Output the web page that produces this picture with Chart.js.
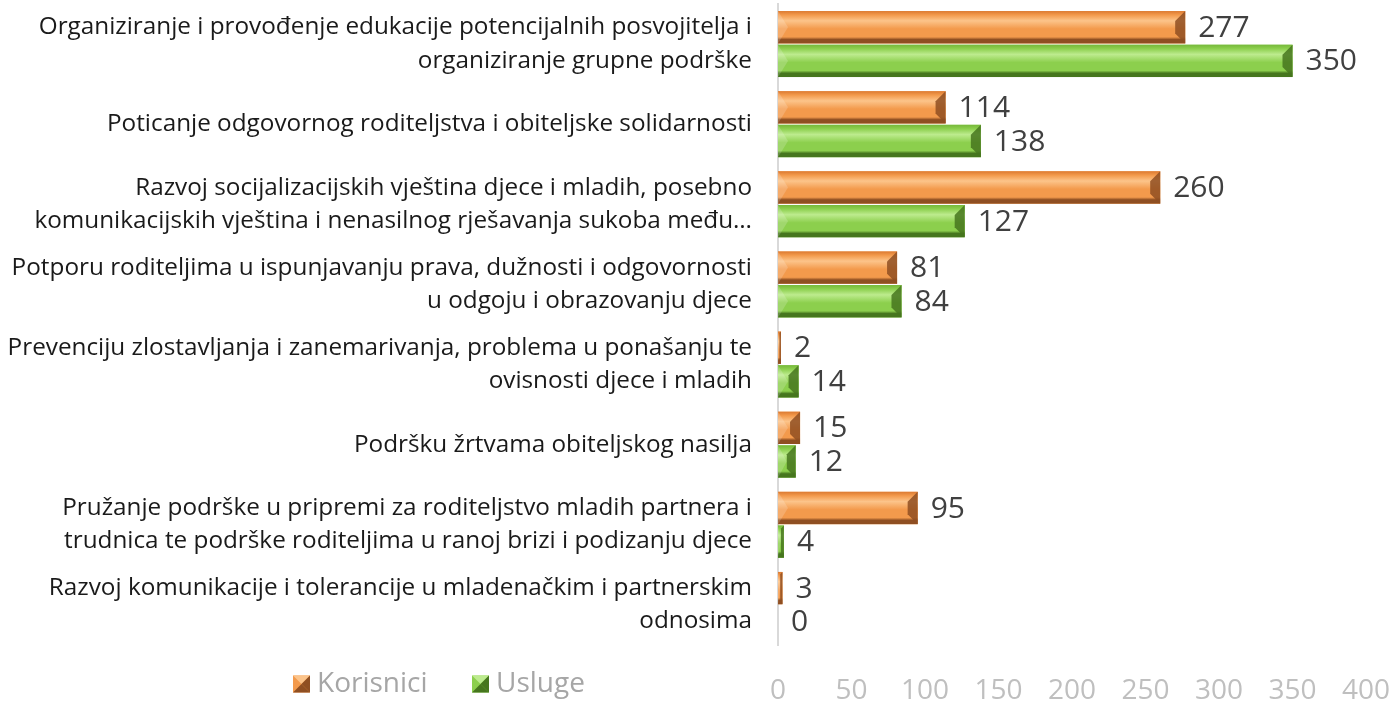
<!DOCTYPE html>
<html lang="hr">
<head>
<meta charset="UTF-8" />
<title>Korisnici i usluge</title>
<style>
  body { margin: 0; background: #fff; }
  .wrap { width: 1393px; height: 702px; position: relative; }
</style>
<script src="https://cdn.jsdelivr.net/npm/chart.js"></script>
</head>
<body>
<div class="wrap"><canvas id="chart"></canvas></div>
<script>
const categories = [
  ['Organiziranje i provođenje edukacije potencijalnih posvojitelja i', 'organiziranje grupne podrške'],
  ['Poticanje odgovornog roditeljstva i obiteljske solidarnosti'],
  ['Razvoj socijalizacijskih vještina djece i mladih, posebno', 'komunikacijskih vještina i nenasilnog rješavanja sukoba među…'],
  ['Potporu roditeljima u ispunjavanju prava, dužnosti i odgovornosti', 'u odgoju i obrazovanju djece'],
  ['Prevenciju zlostavljanja i zanemarivanja, problema u ponašanju te', 'ovisnosti djece i mladih'],
  ['Podršku žrtvama obiteljskog nasilja'],
  ['Pružanje podrške u pripremi za roditeljstvo mladih partnera i', 'trudnica te podrške roditeljima u ranoj brizi i podizanju djece'],
  ['Razvoj komunikacije i tolerancije u mladenačkim i partnerskim', 'odnosima']
];
const korisnici = [277, 114, 260, 81, 2, 15, 95, 3];
const usluge = [350, 138, 127, 84, 14, 12, 4, 0];
const seriesNames = ['Korisnici', 'Usluge'];
const xMax = 400;
const xStep = 50;

const FONT = '"Open Sans", Lato, sans-serif';

const shades = [
  { base: '#F39A4C', light: '#FCC48A', dark: '#8F4F22', edge: '#DB7A32' },
  { base: '#8CCF4D', light: '#BDEB8E', dark: '#46761E', edge: '#76B83A' }
];

function drawBevelBar(ctx, x0, x1, y0, y1, s) {
  const w = x1 - x0, h = y1 - y0;
  if (w <= 0) return;
  const g = ctx.createLinearGradient(0, y0, 0, y1);
  g.addColorStop(0, s.edge);
  g.addColorStop(0.12, s.base);
  g.addColorStop(0.3, s.light);
  g.addColorStop(0.55, s.base);
  g.addColorStop(0.8, s.base);
  g.addColorStop(0.88, s.dark);
  g.addColorStop(1, s.dark);
  ctx.fillStyle = g;
  ctx.fillRect(x0, y0, w, h);
  const b = Math.min(h / 2, w / 2, 10);
  // left bevel (chevron)
  ctx.fillStyle = 'rgba(255,255,255,0.18)';
  ctx.beginPath();
  ctx.moveTo(x0, y0); ctx.lineTo(x0 + b, y0 + h / 2); ctx.lineTo(x0, y1);
  ctx.closePath(); ctx.fill();
  // right bevel (dark end)
  ctx.fillStyle = s.dark;
  ctx.globalAlpha = 0.85;
  ctx.beginPath();
  ctx.moveTo(x1, y0); ctx.lineTo(x1, y1); ctx.lineTo(x1 - b, y1 - b); ctx.lineTo(x1 - b, y0 + b);
  ctx.closePath(); ctx.fill();
  ctx.globalAlpha = 1;
}

const barStyle = {
  id: 'barStyle',
  afterDatasetsDraw(chart) {
    const ctx = chart.ctx;
    ctx.save();
    chart.data.datasets.forEach((ds, di) => {
      const meta = chart.getDatasetMeta(di);
      meta.data.forEach((el, i) => {
        const p = el.getProps(['x', 'y', 'base', 'height'], true);
        const y0 = p.y - p.height / 2, y1 = p.y + p.height / 2;
        drawBevelBar(ctx, Math.min(p.base, p.x), Math.max(p.base, p.x), y0, y1, shades[di]);
        ctx.fillStyle = '#404040';
        ctx.font = '30px ' + FONT;
        ctx.textBaseline = 'middle';
        ctx.textAlign = 'left';
        ctx.fillText(String(ds.data[i]), p.x + 13, p.y + 1);
      });
    });
    ctx.restore();
  }
};

const sideLegend = {
  id: 'sideLegend',
  afterDraw(chart) {
    const ctx = chart.ctx;
    const positions = [293, 472];
    const yc = 684;
    ctx.save();
    ctx.font = '28px ' + FONT;
    ctx.textBaseline = 'middle';
    ctx.textAlign = 'left';
    chart.data.datasets.forEach((ds, di) => {
      const x = positions[di], s = shades[di], sz = 17;
      const y0 = yc - sz / 2;
      ctx.fillStyle = s.base;
      ctx.fillRect(x, y0, sz, sz);
      ctx.fillStyle = s.light;
      ctx.beginPath(); ctx.moveTo(x, y0); ctx.lineTo(x + sz, y0); ctx.lineTo(x + sz / 2, y0 + sz / 2); ctx.closePath(); ctx.fill();
      ctx.fillStyle = s.dark;
      ctx.beginPath(); ctx.moveTo(x + sz, y0); ctx.lineTo(x + sz, y0 + sz); ctx.lineTo(x + sz / 2, y0 + sz / 2); ctx.closePath(); ctx.fill();
      ctx.beginPath(); ctx.moveTo(x, y0 + sz); ctx.lineTo(x + sz, y0 + sz); ctx.lineTo(x + sz / 2, y0 + sz / 2); ctx.closePath(); ctx.fill();
      ctx.fillStyle = '#a6a6a6';
      ctx.fillText(ds.label, x + sz + 7, yc);
    });
    ctx.restore();
  }
};

new Chart(document.getElementById('chart'), {
  type: 'bar',
  data: {
    labels: categories,
    datasets: [
      { label: seriesNames[0], data: korisnici, backgroundColor: shades[0].base },
      { label: seriesNames[1], data: usluge, backgroundColor: shades[1].base }
    ]
  },
  options: {
    indexAxis: 'y',
    responsive: true,
    maintainAspectRatio: false,
    animation: false,
    layout: { padding: { left: 0, right: 27, top: 4, bottom: 0 } },
    datasets: { bar: { categoryPercentage: 0.84, barPercentage: 0.96 } },
    plugins: {
      legend: { display: false },
      tooltip: { enabled: false }
    },
    scales: {
      x: {
        min: 0, max: xMax,
        ticks: { stepSize: xStep, color: '#bfbfbf', padding: 29, font: { family: FONT, size: 28 } },
        grid: { display: false, drawTicks: false },
        border: { display: false },
        afterFit(scale) {
          scale.height = 57;
          scale.paddingLeft = 0;
          scale.paddingRight = 0;
        }
      },
      y: {
        ticks: { color: '#1a1a1a', padding: 26, font: { family: FONT, size: 24.3, lineHeight: 1.36 } },
        grid: { display: false, drawTicks: false },
        border: { display: true, color: '#d9d9d9', width: 2 },
        afterFit(scale) {
          scale.width = 778;
          scale.paddingTop = 0;
          scale.paddingBottom = 0;
        }
      }
    }
  },
  plugins: [barStyle, sideLegend]
});
</script>
</body>
</html>
